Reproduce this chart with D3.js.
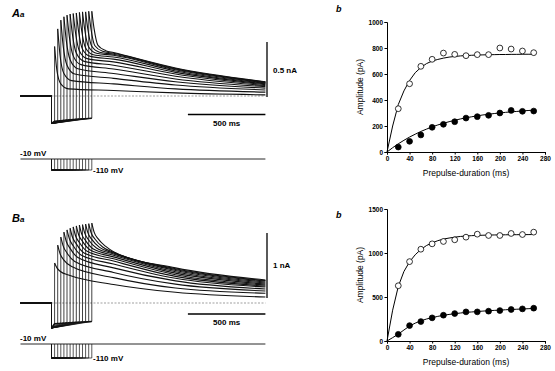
<!DOCTYPE html>
<html>
<head>
<meta charset="utf-8">
<script src="https://cdn.jsdelivr.net/npm/d3@7"></script>
<style>
  body { margin: 0; background: #fff; }
  svg { display: block; font-family: "Liberation Sans", Arial, sans-serif; }
</style>
</head>
<body>
<svg id="fig" width="555" height="371"></svg>
<script>
// prepulse durations (ms) of the 13 sweeps / 13 points
const durations = [20, 40, 60, 80, 100, 120, 140, 160, 180, 200, 220, 240, 260];

// ---- panel A traces (pA) ----
const floorStartA = -250;
const floorEndA = [-230, -226, -222, -218, -215, -212, -210, -208, -206, -205, -204, -203, -202];
const peakA  = [450, 610, 690, 720, 735, 745, 750, 755, 760, 765, 765, 770, 770];
const a15A   = [230, 370, 460, 510, 540, 560, 575, 585, 592, 598, 603, 607, 610];
const a40A   = [110, 205, 280, 330, 365, 390, 410, 425, 437, 445, 452, 457, 460];
const a90A   = [65, 140, 200, 248, 285, 315, 340, 360, 375, 388, 398, 406, 412];
const t400A  = [50, 110, 160, 205, 245, 280, 310, 335, 355, 370, 380, 388, 395];
const t800A  = [28, 65, 100, 130, 155, 180, 200, 215, 228, 238, 245, 250, 255];
const endA   = [10, 35, 55, 72, 85, 95, 103, 110, 115, 120, 124, 127, 130];

// ---- panel B traces (pA) ----
const floorStartB = -385;
const floorEndB = [-320, -310, -305, -300, -297, -294, -292, -290, -288, -287, -286, -285, -284];
const peakB  = [615, 890, 1015, 1090, 1125, 1150, 1170, 1185, 1200, 1205, 1215, 1220, 1230];
const a15B   = [540, 760, 880, 950, 990, 1015, 1035, 1050, 1060, 1070, 1078, 1085, 1090];
const a40B   = [480, 660, 770, 840, 880, 910, 930, 948, 960, 970, 978, 985, 990];
const a90B   = [430, 560, 640, 700, 740, 770, 795, 815, 830, 845, 855, 862, 870];
const t400B  = [285, 390, 470, 540, 600, 645, 680, 710, 735, 755, 770, 780, 790];
const t800B  = [165, 230, 290, 340, 380, 410, 435, 460, 480, 500, 515, 528, 540];
const endB   = [92, 150, 185, 215, 245, 262, 277, 292, 308, 323, 338, 345, 355];

// ---- panel b data (pA) ----
const openA   = [333, 525, 659, 713, 761, 751, 741, 749, 749, 800, 792, 777, 764];
const filledA = [38, 82, 131, 190, 213, 233, 261, 272, 282, 300, 320, 313, 315];
const openB   = [628, 902, 1043, 1104, 1131, 1150, 1180, 1214, 1199, 1199, 1222, 1210, 1237];
const filledB = [76, 175, 221, 263, 293, 312, 331, 331, 339, 346, 358, 365, 373];

// fitted curves, every 10 ms
const fitT = [0, 10, 20, 30, 40, 50, 60, 70, 80, 90, 100, 110, 120, 130, 140, 150, 160, 170, 180, 190, 200, 210, 220, 230, 240, 250, 260];
const fitOpenA   = [0, 200, 365, 470, 550, 610, 650, 680, 700, 712, 722, 730, 735, 739, 742, 744, 746, 747, 748, 749, 750, 750, 751, 751, 752, 752, 752];
const fitFilledA = [0, 33, 63, 90, 115, 137, 158, 176, 193, 208, 221, 233, 244, 254, 263, 271, 278, 285, 290, 296, 300, 305, 309, 312, 316, 319, 322];
const fitOpenB   = [0, 350, 620, 790, 900, 980, 1040, 1085, 1115, 1140, 1158, 1170, 1180, 1188, 1193, 1197, 1200, 1202, 1204, 1205, 1206, 1207, 1208, 1208, 1209, 1209, 1210];
const fitFilledB = [0, 38, 78, 125, 170, 203, 228, 250, 265, 280, 292, 302, 310, 318, 325, 330, 335, 340, 344, 348, 351, 355, 358, 361, 364, 367, 370];

const ticksXb = [0, 40, 80, 120, 160, 200, 240, 280];
const ticksYA = [0, 200, 400, 600, 800, 1000];
const ticksYB = [0, 500, 1000, 1500];

const svg = d3.select("#fig");

// common time axis for the traces (ms, 0 = prepulse start)
const tx = d3.scaleLinear().domain([-200, 1380]).range([20.5, 265.4]);

function drawTraces(cfg) {
  const g = svg.append("g");
  const y = cfg.y;

  // zero-current line
  g.append("line")
    .attr("x1", tx(0)).attr("x2", tx(1380))
    .attr("y1", y(0)).attr("y2", y(0))
    .attr("stroke", "#777").attr("stroke-width", 0.7)
    .attr("stroke-dasharray", "2,1.5");

  const lineLin = d3.line().x(d => tx(d[0])).y(d => y(d[1]));
  const lineSm = d3.line().x(d => tx(d[0])).y(d => y(d[1])).curve(d3.curveMonotoneX);

  durations.forEach((d, i) => {
    g.append("path")
      .attr("d", lineLin([[-200, 0], [0, 0], [0, cfg.floorStart], [d, cfg.floorEnd[i]], [d, cfg.peak[i]]]))
      .attr("fill", "none").attr("stroke", "#111").attr("stroke-width", 0.8);
    g.append("path")
      .attr("d", lineSm([[d, cfg.peak[i]], [d + 15, cfg.a15[i]], [d + 40, cfg.a40[i]], [d + 90, cfg.a90[i]],
                         [400, cfg.t400[i]], [800, cfg.t800[i]], [1380, cfg.end[i]]]))
      .attr("fill", "none").attr("stroke", "#111").attr("stroke-width", 1.1);
  });

  // thicker noisy-looking baseline and prepulse floor
  g.append("path")
    .attr("d", lineLin([[-200, 0], [0, 0]]))
    .attr("stroke", "#111").attr("stroke-width", 1.8);
  g.append("path")
    .attr("d", lineLin([[0, cfg.floorStart], [20, cfg.floorEnd[0]], [260, cfg.floorEnd[12]]]))
    .attr("fill", "none").attr("stroke", "#111").attr("stroke-width", 1.6);

  // scale bars
  g.append("line")
    .attr("x1", 267).attr("x2", 267)
    .attr("y1", y(cfg.barFrom)).attr("y2", y(cfg.barFrom + cfg.barSize))
    .attr("stroke", "#000").attr("stroke-width", 1.3);
  g.append("text")
    .attr("x", 273).attr("y", y(cfg.barFrom + cfg.barSize / 2) + 3)
    .attr("font-size", 8).attr("font-weight", "bold")
    .text(cfg.barLabel);
  g.append("line")
    .attr("x1", tx(880)).attr("x2", tx(1380))
    .attr("y1", cfg.hbarY).attr("y2", cfg.hbarY)
    .attr("stroke", "#000").attr("stroke-width", 1.6);
  g.append("text")
    .attr("x", (tx(880) + tx(1380)) / 2).attr("y", cfg.hbarY + 11)
    .attr("text-anchor", "middle").attr("font-size", 8).attr("font-weight", "bold")
    .text("500 ms");

  // voltage protocol
  const v = cfg.v;
  const vLine = d3.line().x(p => tx(p[0])).y(p => v(p[1]));
  g.append("path")
    .attr("d", vLine([[-200, -10], [1380, -10]]))
    .attr("fill", "none").attr("stroke", "#111").attr("stroke-width", 0.9);
  durations.forEach(d => {
    g.append("path")
      .attr("d", vLine([[0, -10], [0, -110], [d, -110], [d, -10]]))
      .attr("fill", "none").attr("stroke", "#111").attr("stroke-width", 0.7);
  });
  g.append("text").attr("x", 20).attr("y", v(-10) - 3)
    .attr("font-size", 8).attr("font-weight", "bold").text("-10 mV");
  g.append("text").attr("x", 93).attr("y", v(-110) + 3)
    .attr("font-size", 8).attr("font-weight", "bold").text("-110 mV");

  // panel label
  const lab = g.append("text").attr("x", 12).attr("y", cfg.labelY)
    .attr("font-style", "italic").attr("font-weight", "bold");
  lab.append("tspan").attr("font-size", 11).text(cfg.letter);
  lab.append("tspan").attr("font-size", 8).text("a");
}

function drawAmp(cfg) {
  const g = svg.append("g");
  const x = d3.scaleLinear().domain([0, 280]).range([387, 545]);
  const y = cfg.y;

  const styleAxis = ax => {
    ax.selectAll("text").attr("font-size", 6.5).attr("font-weight", "bold").attr("font-family", "Liberation Sans, Arial");
    ax.select(".domain").attr("stroke-width", 1);
  };

  g.append("g")
    .attr("transform", `translate(0,${y(0)})`)
    .call(d3.axisBottom(x).tickValues(ticksXb).tickFormat(d3.format("d")).tickSize(2.5).tickPadding(1.5))
    .call(styleAxis);
  g.append("g")
    .attr("transform", `translate(${x(0)},0)`)
    .call(d3.axisLeft(y).tickValues(cfg.yTicks).tickFormat(d3.format("d")).tickSize(2.5).tickPadding(1.5))
    .call(styleAxis);

  g.append("text")
    .attr("x", (x(0) + x(280)) / 2).attr("y", y(0) + 24)
    .attr("text-anchor", "middle").attr("font-size", 8.5)
    .text("Prepulse-duration (ms)");
  g.append("text")
    .attr("transform", `translate(363,${(y(0) + y(cfg.yTicks[cfg.yTicks.length - 1])) / 2}) rotate(-90)`)
    .attr("text-anchor", "middle").attr("font-size", 8.5)
    .text("Amplitude (pA)");
  g.append("text").attr("x", 336).attr("y", cfg.labelY)
    .attr("font-style", "italic").attr("font-weight", "bold").attr("font-size", 9).text("b");

  const line = d3.line().x((d, i) => x(fitT[i])).y(d => y(d));
  [cfg.fitOpen, cfg.fitFilled].forEach(f => {
    g.append("path").attr("d", line(f))
      .attr("fill", "none").attr("stroke", "#000").attr("stroke-width", 1);
  });

  g.selectAll(".open").data(cfg.open).join("circle")
    .attr("cx", (d, i) => x(durations[i])).attr("cy", d => y(d)).attr("r", 2.9)
    .attr("fill", "#fff").attr("stroke", "#000").attr("stroke-width", 0.8);
  g.selectAll(".filled").data(cfg.filled).join("circle")
    .attr("cx", (d, i) => x(durations[i])).attr("cy", d => y(d)).attr("r", 2.9)
    .attr("fill", "#000").attr("stroke", "#000").attr("stroke-width", 0.8);
}

drawTraces({
  y: d3.scaleLinear().domain([0, 500]).range([96, 41]),
  v: d3.scaleLinear().domain([-10, -110]).range([159, 170]),
  floorStart: floorStartA, floorEnd: floorEndA, peak: peakA,
  a15: a15A, a40: a40A, a90: a90A, t400: t400A, t800: t800A, end: endA,
  barFrom: -10, barSize: 500, barLabel: "0.5 nA", hbarY: 114.5,
  letter: "A", labelY: 17
});

drawTraces({
  y: d3.scaleLinear().domain([0, 1000]).range([303, 238]),
  v: d3.scaleLinear().domain([-10, -110]).range([344, 358]),
  floorStart: floorStartB, floorEnd: floorEndB, peak: peakB,
  a15: a15B, a40: a40B, a90: a90B, t400: t400B, t800: t800B, end: endB,
  barFrom: 77, barSize: 1000, barLabel: "1 nA", hbarY: 314,
  letter: "B", labelY: 222
});

drawAmp({
  y: d3.scaleLinear().domain([0, 1000]).range([152, 22]),
  yTicks: ticksYA, open: openA, filled: filledA,
  fitOpen: fitOpenA, fitFilled: fitFilledA, labelY: 12
});

drawAmp({
  y: d3.scaleLinear().domain([0, 1500]).range([341, 209]),
  yTicks: ticksYB, open: openB, filled: filledB,
  fitOpen: fitOpenB, fitFilled: fitFilledB, labelY: 218
});
</script>
</body>
</html>
